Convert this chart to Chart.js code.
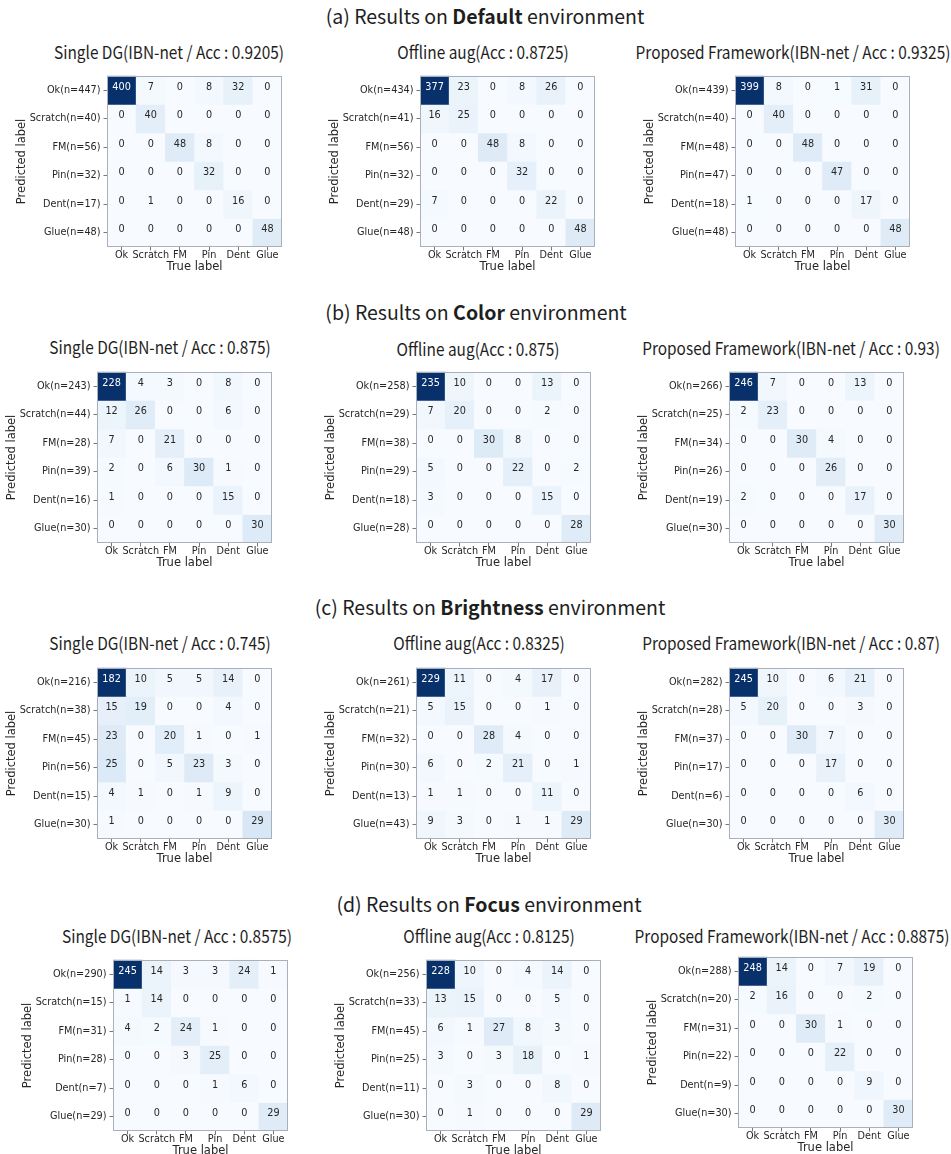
<!DOCTYPE html>
<html>
<head>
<meta charset="utf-8">
<script src="https://cdn.jsdelivr.net/npm/chart.js@4.4.1/dist/chart.umd.min.js"></script>
<style>
  html, body { margin: 0; padding: 0; background: #ffffff; }
  #fig { position: relative; width: 951px; height: 1154px; overflow: hidden;
         font-family: "Noto Sans CJK KR", "Noto Sans", sans-serif; color: #1e1e1e; }
  .hdr { position: absolute; font-size: 19.5px; line-height: 1; white-space: nowrap;
         transform: translate(-50%, -50%); }
  .hdr b { font-weight: 700; }
  .ttl { position: absolute; font-size: 17.5px; line-height: 1; white-space: nowrap;
         transform: translate(-50%, -50%) scaleX(0.88); }
  canvas { position: absolute; }
</style>
</head>
<body>
<div id="fig"></div>
<script>
// ---- class names (true-label axis); predicted-axis names carry their row totals ----
const classNames = ['Ok', 'Scratch', 'FM', 'Pin', 'Dent', 'Glue'];

// ---- confusion matrices: rows = predicted label, columns = true label ----
const defaultSingleDG = [
  [400, 7, 0, 8, 32, 0],
  [0, 40, 0, 0, 0, 0],
  [0, 0, 48, 8, 0, 0],
  [0, 0, 0, 32, 0, 0],
  [0, 1, 0, 0, 16, 0],
  [0, 0, 0, 0, 0, 48]
];
const defaultOfflineAug = [
  [377, 23, 0, 8, 26, 0],
  [16, 25, 0, 0, 0, 0],
  [0, 0, 48, 8, 0, 0],
  [0, 0, 0, 32, 0, 0],
  [7, 0, 0, 0, 22, 0],
  [0, 0, 0, 0, 0, 48]
];
const defaultProposed = [
  [399, 8, 0, 1, 31, 0],
  [0, 40, 0, 0, 0, 0],
  [0, 0, 48, 0, 0, 0],
  [0, 0, 0, 47, 0, 0],
  [1, 0, 0, 0, 17, 0],
  [0, 0, 0, 0, 0, 48]
];
const colorSingleDG = [
  [228, 4, 3, 0, 8, 0],
  [12, 26, 0, 0, 6, 0],
  [7, 0, 21, 0, 0, 0],
  [2, 0, 6, 30, 1, 0],
  [1, 0, 0, 0, 15, 0],
  [0, 0, 0, 0, 0, 30]
];
const colorOfflineAug = [
  [235, 10, 0, 0, 13, 0],
  [7, 20, 0, 0, 2, 0],
  [0, 0, 30, 8, 0, 0],
  [5, 0, 0, 22, 0, 2],
  [3, 0, 0, 0, 15, 0],
  [0, 0, 0, 0, 0, 28]
];
const colorProposed = [
  [246, 7, 0, 0, 13, 0],
  [2, 23, 0, 0, 0, 0],
  [0, 0, 30, 4, 0, 0],
  [0, 0, 0, 26, 0, 0],
  [2, 0, 0, 0, 17, 0],
  [0, 0, 0, 0, 0, 30]
];
const brightnessSingleDG = [
  [182, 10, 5, 5, 14, 0],
  [15, 19, 0, 0, 4, 0],
  [23, 0, 20, 1, 0, 1],
  [25, 0, 5, 23, 3, 0],
  [4, 1, 0, 1, 9, 0],
  [1, 0, 0, 0, 0, 29]
];
const brightnessOfflineAug = [
  [229, 11, 0, 4, 17, 0],
  [5, 15, 0, 0, 1, 0],
  [0, 0, 28, 4, 0, 0],
  [6, 0, 2, 21, 0, 1],
  [1, 1, 0, 0, 11, 0],
  [9, 3, 0, 1, 1, 29]
];
const brightnessProposed = [
  [245, 10, 0, 6, 21, 0],
  [5, 20, 0, 0, 3, 0],
  [0, 0, 30, 7, 0, 0],
  [0, 0, 0, 17, 0, 0],
  [0, 0, 0, 0, 6, 0],
  [0, 0, 0, 0, 0, 30]
];
const focusSingleDG = [
  [245, 14, 3, 3, 24, 1],
  [1, 14, 0, 0, 0, 0],
  [4, 2, 24, 1, 0, 0],
  [0, 0, 3, 25, 0, 0],
  [0, 0, 0, 1, 6, 0],
  [0, 0, 0, 0, 0, 29]
];
const focusOfflineAug = [
  [228, 10, 0, 4, 14, 0],
  [13, 15, 0, 0, 5, 0],
  [6, 1, 27, 8, 3, 0],
  [3, 0, 3, 18, 0, 1],
  [0, 3, 0, 0, 8, 0],
  [0, 1, 0, 0, 0, 29]
];
const focusProposed = [
  [248, 14, 0, 7, 19, 0],
  [2, 16, 0, 0, 2, 0],
  [0, 0, 30, 1, 0, 0],
  [0, 0, 0, 22, 0, 0],
  [0, 0, 0, 0, 9, 0],
  [0, 0, 0, 0, 0, 30]
];

// ---- section headers and panel titles ----
const sectionTags = ['(a)', '(b)', '(c)', '(d)'];
const environments = ['Default', 'Color', 'Brightness', 'Focus'];
const singleDGTitles = [
  'Single DG(IBN-net / Acc : 0.9205)',
  'Single DG(IBN-net / Acc : 0.875)',
  'Single DG(IBN-net / Acc : 0.745)',
  'Single DG(IBN-net / Acc : 0.8575)'
];
const offlineAugTitles = [
  'Offline aug(Acc : 0.8725)',
  'Offline aug(Acc : 0.875)',
  'Offline aug(Acc : 0.8325)',
  'Offline aug(Acc : 0.8125)'
];
const proposedTitles = [
  'Proposed Framework(IBN-net / Acc : 0.9325)',
  'Proposed Framework(IBN-net / Acc : 0.93)',
  'Proposed Framework(IBN-net / Acc : 0.87)',
  'Proposed Framework(IBN-net / Acc : 0.8875)'
];

const matrices = [
  [defaultSingleDG, defaultOfflineAug, defaultProposed],
  [colorSingleDG, colorOfflineAug, colorProposed],
  [brightnessSingleDG, brightnessOfflineAug, brightnessProposed],
  [focusSingleDG, focusOfflineAug, focusProposed]
];
const titles = [0, 1, 2, 3].map(i => [singleDGTitles[i], offlineAugTitles[i], proposedTitles[i]]);

// ---- page layout (pixels) ----
const SIDE = 175;     // heat-map square
const AXIS_W = 100;   // room for row names + "Predicted label"
const AXIS_H = 32;    // room for column names + "True label"
const PAD_T = 5, PAD_R = 10;
const headerPos = [[485, 16], [476, 312], [490, 607], [489, 904]];
const boxPos = [
  [[107, 72], [420, 72], [735, 72]],
  [[97, 368], [416, 368], [729, 368]],
  [[97, 664], [416, 664], [729, 664]],
  [[113, 956], [426, 956], [738, 953]]
];
const titlePos = [
  [[169, 52], [483, 52], [793, 52]],
  [[160, 347], [478, 349], [791, 348]],
  [[160, 643], [479, 643], [791, 643]],
  [[177, 936], [489, 936], [792, 936]]
];

// ---- matplotlib "Blues" colour map ----
const BLUES = ['#f7fbff', '#deebf7', '#c6dbef', '#9ecae1', '#6baed6', '#4292c6', '#2171b5', '#08519c', '#08306b'];
const BLUES_RGB = BLUES.map(h => [1, 3, 5].map(k => parseInt(h.substr(k, 2), 16)));
function blues(t) {
  t = Math.max(0, Math.min(1, t));
  const p = t * (BLUES_RGB.length - 1);
  const i = Math.min(Math.floor(p), BLUES_RGB.length - 2);
  const f = p - i;
  const c = BLUES_RGB[i].map((v, k) => Math.round(v + (BLUES_RGB[i + 1][k] - v) * f));
  return `rgb(${c[0]},${c[1]},${c[2]})`;
}

const TICK_FONT = { family: 'DejaVu Sans', size: 9.7 };
const LABEL_FONT = { family: 'DejaVu Sans', size: 11.5 };
const INK = '#262626';

// cell counts + full frame around the heat map
const cellText = {
  id: 'cellText',
  afterDatasetsDraw(chart, args, opts) {
    const { ctx, chartArea: a } = chart;
    ctx.save();
    ctx.font = `${TICK_FONT.size}px "${TICK_FONT.family}"`;
    ctx.textAlign = 'center';
    ctx.textBaseline = 'middle';
    chart.data.datasets.forEach((ds, di) => {
      chart.getDatasetMeta(di).data.forEach((bar, ci) => {
        const v = ds.data[ci].v;
        const p = bar.getProps(['x', 'y', 'base'], true);
        ctx.fillStyle = v > opts.max / 2 ? '#ffffff' : INK;
        ctx.fillText(String(v), p.x, (p.y + p.base) / 2 - 3);
      });
    });
    ctx.strokeStyle = '#a9b0bb';
    ctx.lineWidth = 1;
    ctx.strokeRect(Math.round(a.left) + 0.5, Math.round(a.top) + 0.5,
                   Math.round(a.right - a.left) - 1, Math.round(a.bottom - a.top) - 1);
    ctx.restore();
  }
};

const fig = document.getElementById('fig');

function addText(cls, html, x, y) {
  const d = document.createElement('div');
  d.className = cls;
  d.innerHTML = html;
  d.style.left = x + 'px';
  d.style.top = y + 'px';
  fig.appendChild(d);
}

function drawMatrix(matrix, left, top) {
  const rowNames = matrix.map((row, r) => `${classNames[r]}(n=${row.reduce((s, v) => s + v, 0)})`);
  const maxVal = Math.max(...matrix.flat());

  const canvas = document.createElement('canvas');
  const W = AXIS_W + SIDE + PAD_R, H = PAD_T + SIDE + AXIS_H;
  canvas.width = W; canvas.height = H;
  canvas.style.left = (left - AXIS_W) + 'px';
  canvas.style.top = (top - PAD_T) + 'px';
  fig.appendChild(canvas);

  // one stacked dataset per predicted row; every cell is one unit tall
  const datasets = matrix.map(row => ({
    data: row.map((v, c) => ({ x: classNames[c], y: 1, v })),
    backgroundColor: ctx => blues(ctx.raw.v / maxVal),
    borderWidth: 0,
    barPercentage: 1,
    categoryPercentage: 1
  }));

  new Chart(canvas, {
    type: 'bar',
    data: { labels: classNames, datasets },
    plugins: [cellText],
    options: {
      responsive: false,
      animation: false,
      events: [],
      layout: { padding: { left: 0, top: PAD_T, right: PAD_R, bottom: 0 } },
      plugins: {
        legend: { display: false },
        tooltip: { enabled: false },
        cellText: { max: maxVal }
      },
      scales: {
        x: {
          type: 'category',
          stacked: true,
          offset: true,
          afterFit: s => { s.height = AXIS_H; },
          ticks: { font: TICK_FONT, color: INK, padding: -1, maxRotation: 0, minRotation: 0, autoSkip: false },
          grid: { offset: false, drawOnChartArea: false, drawTicks: true, tickLength: 3.5, color: '#777777' },
          border: { display: false },
          title: { display: true, text: 'True label', font: LABEL_FONT, color: INK, padding: { top: 0, bottom: 5 } }
        },
        y: {
          type: 'linear',
          min: 0,
          max: matrix.length,
          reverse: true,
          stacked: true,
          afterBuildTicks: s => { s.ticks = rowNames.map((_, i) => ({ value: i + 0.5 })); },
          afterFit: s => { s.width = AXIS_W; },
          ticks: { font: TICK_FONT, color: INK, padding: 3, autoSkip: false,
                   callback: v => rowNames[Math.floor(v)] },
          grid: { drawOnChartArea: false, drawTicks: true, tickLength: 3.5, color: '#777777' },
          border: { display: false },
          title: { display: true, text: 'Predicted label', font: LABEL_FONT, color: INK, padding: { top: 8, bottom: 0 } }
        }
      }
    }
  });
}

for (let s = 0; s < 4; s++) {
  addText('hdr', `${sectionTags[s]} Results on <b>${environments[s]}</b> environment`, headerPos[s][0], headerPos[s][1]);
  for (let p = 0; p < 3; p++) {
    addText('ttl', titles[s][p], titlePos[s][p][0], titlePos[s][p][1]);
    drawMatrix(matrices[s][p], boxPos[s][p][0], boxPos[s][p][1]);
  }
}
</script>
</body>
</html>
